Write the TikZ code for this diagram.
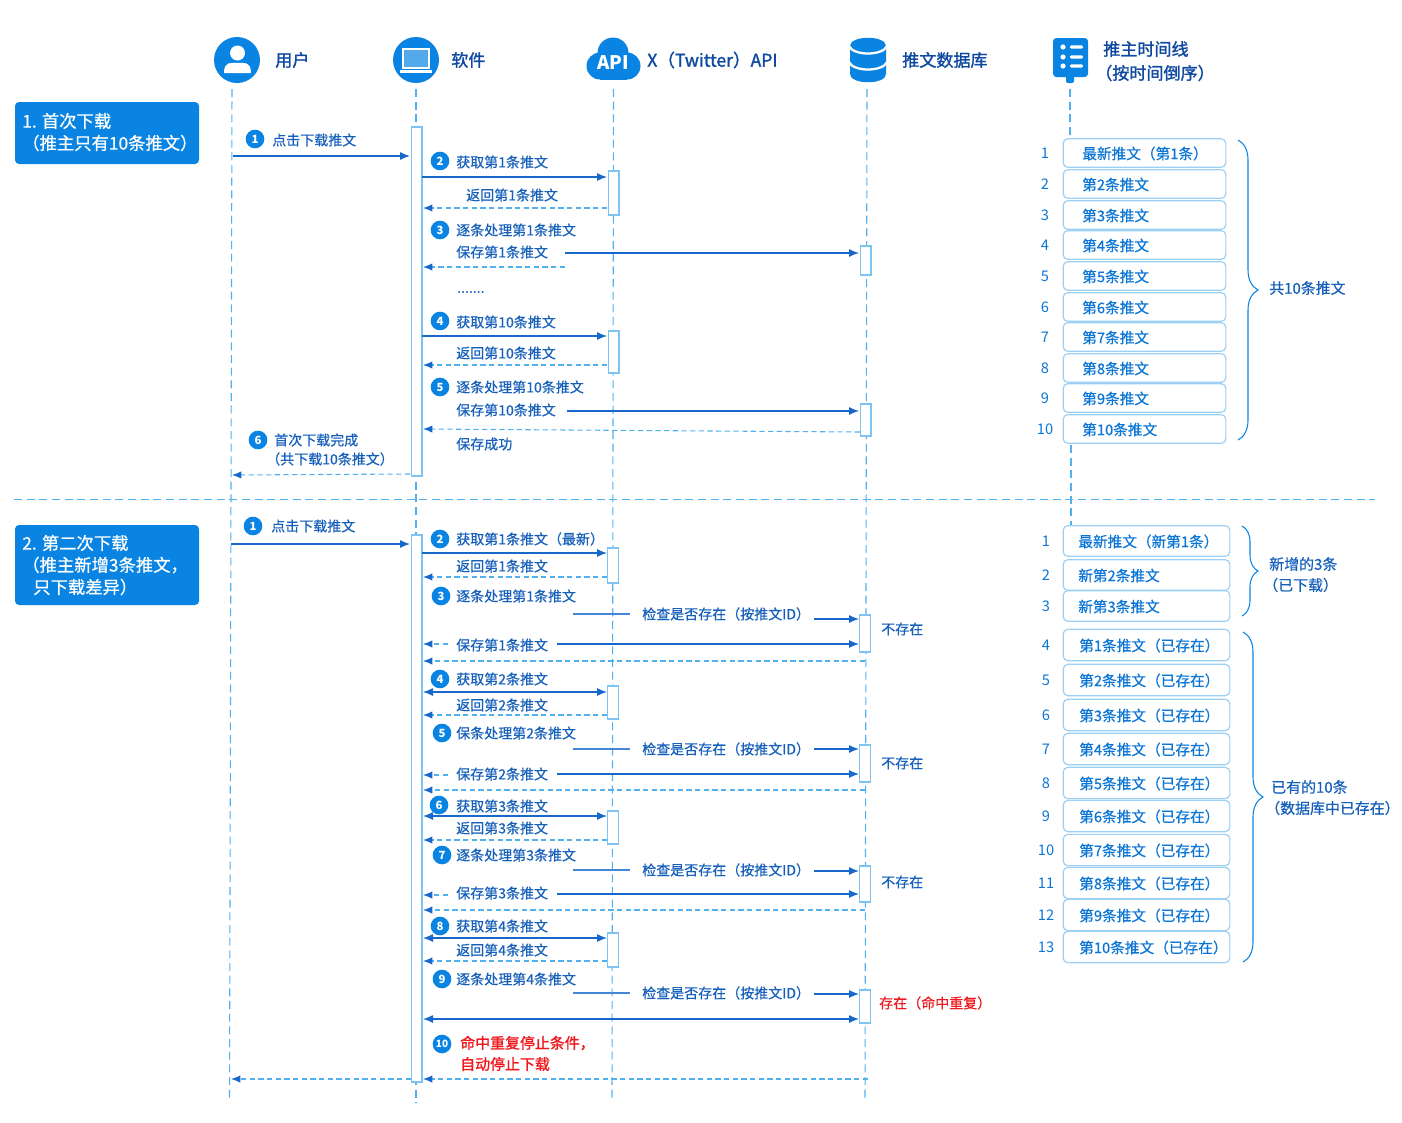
\documentclass[tikz,border=0pt]{standalone}
\usepackage{fontspec}
\setmainfont{Noto Sans CJK SC}
\newfontfamily\medfont{Noto Sans CJK SC}[FakeBold=0.6]
\newfontfamily\headfont{Noto Sans CJK SC}[FakeBold=1.5]
\usepackage{xcolor}
\usetikzlibrary{arrows.meta,decorations.pathreplacing}

\definecolor{iconblue}{RGB}{10,132,226}
\definecolor{lifeblue}{RGB}{82,176,238}
\definecolor{arrowblue}{RGB}{24,104,204}
\definecolor{textblue}{RGB}{22,96,186}
\definecolor{headblue}{RGB}{16,74,160}
\definecolor{tlblue}{RGB}{12,118,214}
\definecolor{tlline}{RGB}{156,208,244}
\definecolor{stopred}{RGB}{238,24,30}

\tikzset{
  lifeline/.style={draw=lifeblue,line width=0.8pt,dash pattern=on 6pt off 3.5pt},
  actbox/.style={draw=lifeblue!75,fill=white,line width=0.8pt,minimum width=8.2pt,inner sep=0pt},
  reqline/.style={draw=arrowblue,line width=0.9pt,-{Latex[length=7.5pt,width=6pt]}},
  bothline/.style={draw=arrowblue,line width=0.9pt,{Latex[length=7.5pt,width=6pt]}-{Latex[length=7.5pt,width=6pt]}},
  retline/.style={draw=lifeblue,line width=0.8pt,dash pattern=on 4pt off 2.5pt,-{Latex[length=7pt,width=5.5pt,color=arrowblue]}},
  plainline/.style={draw=arrowblue!80,line width=0.8pt},
  badge/.style={circle,fill=iconblue,text=white,inner sep=0pt,minimum size=14pt,font=\fontsize{8.5}{9}\selectfont\bfseries},
  msgtext/.style={anchor=west,inner sep=0pt,text=textblue,font=\fontsize{10.5}{12}\selectfont\medfont},
  sumtext/.style={anchor=west,inner sep=0pt,text=textblue,font=\fontsize{11.2}{13}\selectfont\medfont},
  redtext/.style={anchor=west,inner sep=0pt,text=stopred,font=\fontsize{10.5}{12}\selectfont\medfont},
  stoptext/.style={anchor=west,inner sep=0pt,text=stopred,font=\fontsize{11.2}{13}\selectfont\headfont},
  headtext/.style={anchor=west,inner sep=0pt,text=headblue,font=\fontsize{12.8}{14}\selectfont\headfont},
  phasebox/.style={draw=none,fill=iconblue,rounded corners=3pt,inner sep=0pt},
  phasetext/.style={anchor=west,inner sep=0pt,text=white,font=\fontsize{13}{15}\selectfont\medfont},
  tlbox/.style={draw=tlline,fill=white,line width=0.9pt,rounded corners=3.5pt,inner sep=0pt},
  tltext/.style={anchor=west,inner sep=0pt,text=tlblue,font=\fontsize{11}{13}\selectfont\medfont},
  tlnum/.style={inner sep=0pt,text=tlblue,font=\fontsize{11}{13}\selectfont},
  bracket/.style={draw=iconblue,line width=0.8pt,decorate,decoration={brace,amplitude=15pt}},
  bracketsmall/.style={bracket,decoration={brace,amplitude=12pt}},
}

\begin{document}
\begin{tikzpicture}[x=0.75pt,y=0.75pt,yscale=-1,xscale=1]
\useasboundingbox (0,0) rectangle (1402,1122);

% Lifelines
\foreach \name/\xa/\ya/\xb/\yb in {user/232/89/229.5/1098,soft/416/89/416/1103,api/613.5/89/612/1098,db/867/89/865/1098,tlone/1070/89/1070/138,tltwo/1071/445/1071/525}{
  \coordinate (\name top) at (\xa,\ya);
  \coordinate (\name bot) at (\xb,\yb);
  \draw[lifeline] (\name top) -- (\name bot);
}

% Divider
\coordinate (divleft) at (14,499.5);
\coordinate (divright) at (1375,499.5);
\draw[lifeline] (divleft) -- (divright);

% Activation boxes
\foreach \name/\x/\ya/\yb in {softa/416.5/127/476,softb/416.5/535/1082,apia/613.5/171/215,apib/613.5/331/373,apic/613/548/583,apid/613/686/719,apie/613/811/844,apif/613/933/967,dba/865.5/246/275,dbb/865.5/404/436,dbc/865/615/652,dbd/865/745/782,dbe/865/866/902,dbf/865/990/1023}{
  \node[actbox,minimum height={(\yb-\ya)*0.75pt}] (\name) at (\x,{(\ya+\yb)/2}) {};
}

% User icon
\node[circle,fill=iconblue,minimum size=34.5pt,inner sep=0pt] (usericon) at (237,60) {};
\fill[white] (237.5,53) circle (7.5);
\fill[white] (224,73) .. controls (224,61) and (231,63) .. (237.5,63) .. controls (244,63) and (251,61) .. (251,73) -- cycle;
% Software icon
\node[circle,fill=iconblue,minimum size=34.5pt,inner sep=0pt] (softicon) at (416,60) {};
\draw[white,line width=1.8pt,fill=iconblue!70] (403,49) rectangle (429,68);
\fill[white] (400,70) rectangle (432,73);
% API cloud
\fill[iconblue] (613,53) circle (15.5);
\fill[iconblue] (600,66) circle (13.5);
\fill[iconblue] (627,66) circle (13.5);
\fill[iconblue] (600,60) rectangle (627,79.5);
\node[inner sep=0pt,text=white,font=\fontsize{14}{15}\selectfont\bfseries] (apilabel) at (613,63) {API};
% Database icon
\fill[iconblue] (850,46) .. controls (850,35) and (886,35) .. (886,46) -- (886,74) .. controls (886,85) and (850,85) .. (850,74) -- cycle;
\draw[white,line width=1.7pt] (849,46) .. controls (853,56) and (883,56) .. (887,46);
\draw[white,line width=1.7pt] (849,62) .. controls (853,72) and (883,72) .. (887,62);
% Timeline icon
\fill[iconblue,rounded corners=2.5pt] (1053,38) rectangle (1088,77);
\fill[iconblue,rounded corners=1.5pt] (1066,75) rectangle (1074,83);
\foreach \y in {47,57,66}{
  \fill[white] (1063,\y) circle (2.6);
  \fill[white,rounded corners=1pt] (1070,{\y-1.7}) rectangle (1083,{\y+1.7});
}

% Column headings
\node[headtext] (headuser) at (275,60) {用户};
\node[headtext] (headsoft) at (451,60) {软件};
\node[headtext,font=\fontsize{13.2}{14}\selectfont\headfont] (headapi) at (647,60) {X（Twitter）API};
\node[headtext] (headdb) at (902,60) {推文数据库};
\node[headtext] (headtla) at (1103,49) {推主时间线};
\node[headtext] (headtlb) at (1095,73) {（按时间倒序）};

% Phase boxes
\node[phasebox,minimum width=138pt,minimum height=46.5pt] (phaseone) at (107,133) {};
\node[phasetext] (phaseonea) at (22,121) {1. 首次下载};
\node[phasetext] (phaseoneb) at (22,143) {（推主只有10条推文）};
\node[phasebox,minimum width=138pt,minimum height=60pt] (phasetwo) at (107,565) {};
\node[phasetext] (phasetwoa) at (22,543) {2. 第二次下载};
\node[phasetext] (phasetwob) at (22,565) {（推主新增3条推文，};
\node[phasetext] (phasetwoc) at (33,587) {只下载差异）};

% Messages, first download
\foreach \name/\xa/\ya/\xb/\yb/\kind in {
  ma/233/156/410/156/reqline,mb/422/177/607/177/reqline,mc/607/208/423/208/retline,
  md/565/253/859/253/reqline,me/565/267/423/267/retline,mf/422/336/607/336/reqline,
  mg/607/365/423/365/retline,mh/567/411/859/411/reqline,mi/860/432/423/429/retline,
  mj/410/474/232/475/retline}{
  \coordinate (\name s) at (\xa,\ya);
  \coordinate (\name e) at (\xb,\yb);
  \draw[\kind] (\name s) -- (\name e);
}

% Messages, second download
\foreach \name/\xa/\ya/\xb/\yb/\kind in {
  na/231/544/410/544/reqline,nb/422/553/607/553/reqline,nc/607/577/423/577/retline,
  nd/573/614/630/614/plainline,ne/814/619/859/619/reqline,nf/448/644/423/644/retline,
  ng/557/644/859/644/reqline,nh/865/661/423/661/retline,ni/423/692/607/692/bothline,
  nj/607/715/423/715/retline,nk/573/749/630/749/plainline,nl/814/749/859/749/reqline,
  nm/448/775/423/775/retline,nn/557/774/859/774/reqline,no/865/790/423/790/retline,
  np/423/816/607/816/bothline,nq/607/840/423/840/retline,nr/573/870/630/870/plainline,
  ns/814/871/859/871/reqline,nt/448/895/423/895/retline,nu/557/894/859/894/reqline,
  nv/865/910/423/910/retline,nw/423/938/607/938/bothline,nx/607/961/423/961/retline,
  ny/573/993/630/993/plainline,nz/814/994/859/994/reqline,nA/423/1019/859/1019/bothline,
  nB/868/1079/423/1079/retline,nC/411/1079/231/1079/retline}{
  \coordinate (\name s) at (\xa,\ya);
  \coordinate (\name e) at (\xb,\yb);
  \draw[\kind] (\name s) -- (\name e);
}

% Number badges
\foreach \name/\x/\y/\lab in {ba/255/139/1,bb/440/161/2,bc/440/230/3,bd/440/321/4,be/440/387/5,bf/258/440/6,
  ca/253/526/1,cb/440/539/2,cc/441/596/3,cd/440/679/4,ce/442/733/5,cf/439/805/6,cg/442/855/7,ch/440/926/8,ci/442/979/9}{
  \node[badge] (\name) at (\x,\y) {\lab};
}
\node[badge,font=\fontsize{7.5}{8}\selectfont\bfseries] (cj) at (442,1044) {10};

% Message labels
\node[msgtext] (tf) at (457,292) {.......};
\foreach \name/\x/\y/\lab in {
  ta/272/140/点击下载推文,tb/456/162/获取第1条推文,tc/466/195/返回第1条推文,td/456/230/逐条处理第1条推文,
  te/456/252/保存第1条推文,tg/456/322/获取第10条推文,th/456/353/返回第10条推文,
  ti/456/387/逐条处理第10条推文,tj/456/410/保存第10条推文,tk/456/444/保存成功,
  tl/274/440/首次下载完成,tm/266/459/（共下载10条推文）,
  ua/271/526/点击下载推文,ub/456/539/获取第1条推文（最新）,uc/456/566/返回第1条推文,ud/456/596/逐条处理第1条推文,
  ue/642/614/检查是否存在（按推文ID）,uf/881/629/不存在,ug/456/645/保存第1条推文,uh/456/679/获取第2条推文,
  ui/456/705/返回第2条推文,uj/456/733/保条处理第2条推文,uk/642/749/检查是否存在（按推文ID）,ul/881/763/不存在,
  um/456/774/保存第2条推文,un/456/806/获取第3条推文,uo/456/828/返回第3条推文,up/456/855/逐条处理第3条推文,
  uq/642/870/检查是否存在（按推文ID）,ur/881/882/不存在,us/456/893/保存第3条推文,ut/456/926/获取第4条推文,
  uu/456/950/返回第4条推文,uv/456/979/逐条处理第4条推文,uw/642/993/检查是否存在（按推文ID）}{
  \node[msgtext] (\name) at (\x,\y) {\lab};
}
\node[redtext] (redexist) at (879,1003) {存在（命中重复）};
\node[stoptext] (redstopa) at (460,1043) {命中重复停止条件，};
\node[stoptext] (redstopb) at (460,1064) {自动停止下载};

% Timeline, first download
\foreach \n/\y/\lab in {1/153/最新推文（第1条）,2/184/第2条推文,3/215/第3条推文,4/245/第4条推文,5/276/第5条推文,6/307/第6条推文,7/337/第7条推文,8/368/第8条推文,9/398/第9条推文,10/429/第10条推文}{
  \node[tlnum] (anum\n) at (1045,{\y+0.5}) {\n};
  \node[tlbox,minimum width=122pt,minimum height=21.5pt] (abox\n) at (1144.5,\y) {};
  \node[tltext] (atext\n) at (1082,{\y+0.5}) {\lab};
}

% Timeline, second download
\foreach \n/\y/\lab in {1/541/最新推文（新第1条）,2/575/新第2条推文,3/606/新第3条推文}{
  \node[tlnum] (bnum\n) at (1046,{\y+0.5}) {\n};
  \node[tlbox,minimum width=125pt,minimum height=23pt] (bbox\n) at (1146.5,\y) {};
  \node[tltext] (btext\n) at (1078,{\y+0.5}) {\lab};
}
\foreach \n/\y/\lab in {4/645/第1条推文（已存在）,5/680/第2条推文（已存在）,6/715/第3条推文（已存在）,7/749/第4条推文（已存在）,8/783/第5条推文（已存在）,9/816/第6条推文（已存在）,10/850/第7条推文（已存在）,11/883/第8条推文（已存在）,12/915/第9条推文（已存在）,13/947/第10条推文（已存在）}{
  \node[tlnum] (bnum\n) at (1046,{\y+0.5}) {\n};
  \node[tlbox,minimum width=125pt,minimum height=23.5pt] (bbox\n) at (1146.5,\y) {};
  \node[tltext] (btext\n) at (1079,{\y+0.5}) {\lab};
}

% Braces
\coordinate (bracea) at (1238,140);
\coordinate (braceb) at (1238,440);
\draw[bracket] (bracea) -- (braceb);
\node[sumtext] (sumten) at (1269,288) {共10条推文};
\coordinate (bracec) at (1242,526);
\coordinate (braced) at (1242,616);
\draw[bracketsmall] (bracec) -- (braced);
\node[sumtext] (sumnewa) at (1269,564) {新增的3条};
\node[sumtext] (sumnewb) at (1263,585) {（已下载）};
\coordinate (bracee) at (1243,632);
\coordinate (bracef) at (1243,962);
\draw[bracket] (bracee) -- (bracef);
\node[sumtext] (sumolda) at (1271,787) {已有的10条};
\node[sumtext] (sumoldb) at (1265,808) {（数据库中已存在）};

\end{tikzpicture}
\end{document}
